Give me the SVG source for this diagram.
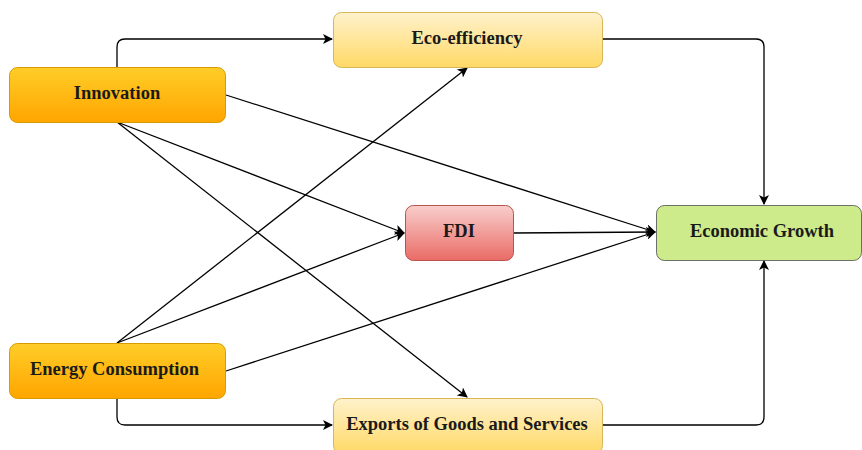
<svg xmlns="http://www.w3.org/2000/svg" width="862" height="450" viewBox="0 0 862 450">
<defs>
<linearGradient id="gOrange" x1="0" y1="0" x2="0" y2="1"><stop offset="0" stop-color="#ffcd28"/><stop offset="1" stop-color="#ffa500"/></linearGradient>
<linearGradient id="gYellow" x1="0" y1="0" x2="0" y2="1"><stop offset="0" stop-color="#fff2cc"/><stop offset="1" stop-color="#ffd966"/></linearGradient>
<linearGradient id="gRed" x1="0" y1="0" x2="0" y2="1"><stop offset="0" stop-color="#f8cecc"/><stop offset="1" stop-color="#ea6b66"/></linearGradient>
<marker id="arr" viewBox="0 0 10 10" refX="9" refY="5" markerWidth="10" markerHeight="10" markerUnits="userSpaceOnUse" orient="auto"><path d="M0,0 L10,5 L0,10 L2.5,5 Z" fill="#000"/></marker>
</defs>
<style>
.lbl{font-family:"Liberation Serif","Times New Roman",serif;font-weight:bold;font-size:18.5px;fill:#1a1a1a;text-anchor:middle;dominant-baseline:central}
.c{fill:none;stroke:#000;stroke-width:1.3;marker-end:url(#arr)}
</style>
<rect width="862" height="450" fill="#fff"/>
<g id="connectors">
<path class="c" d="M117,67 V47 Q117,39 125,39 H332"/>
<path class="c" d="M602,39 H756 Q764,39 764,47 V204"/>
<path class="c" d="M602,425 H756 Q764,425 764,417 V261"/>
<path class="c" d="M117,399 V417 Q117,425 125,425 H332"/>
<path class="c" d="M226,95 L655,232"/>
<path class="c" d="M117,122 L404,233"/>
<path class="c" d="M117,122 L467,397"/>
<path class="c" d="M117,343 L467,68"/>
<path class="c" d="M117,343 L404,233"/>
<path class="c" d="M226,371 L655,232"/>
<path class="c" d="M513,233 L655,232"/>
</g>
<g id="innovation"><rect x="9.5" y="67.5" width="216" height="55" rx="8" fill="url(#gOrange)" stroke="#d79b00"/><text class="lbl" x="117" y="93">Innovation</text></g>
<g id="eco-efficiency"><rect x="333.5" y="12.5" width="269" height="55" rx="8" fill="url(#gYellow)" stroke="#d6b656"/><text class="lbl" x="467" y="38">Eco-efficiency</text></g>
<g id="fdi"><rect x="405.5" y="205.5" width="108" height="55" rx="8" fill="url(#gRed)" stroke="#b85450"/><text class="lbl" x="459" y="231">FDI</text></g>
<g id="economic-growth"><rect x="656.5" y="205.5" width="205" height="55" rx="8" fill="#cdeb8b" stroke="#36393d" stroke-opacity="0.7"/><text class="lbl" x="762" y="231">Economic Growth</text></g>
<g id="energy-consumption"><rect x="9.5" y="343.5" width="216" height="55" rx="8" fill="url(#gOrange)" stroke="#d79b00"/><text class="lbl" x="114.5" y="369">Energy Consumption</text></g>
<g id="exports"><rect x="333.5" y="398.5" width="269" height="55" rx="8" fill="url(#gYellow)" stroke="#d6b656"/><text class="lbl" x="467" y="424">Exports of Goods and Services</text></g>
</svg>
